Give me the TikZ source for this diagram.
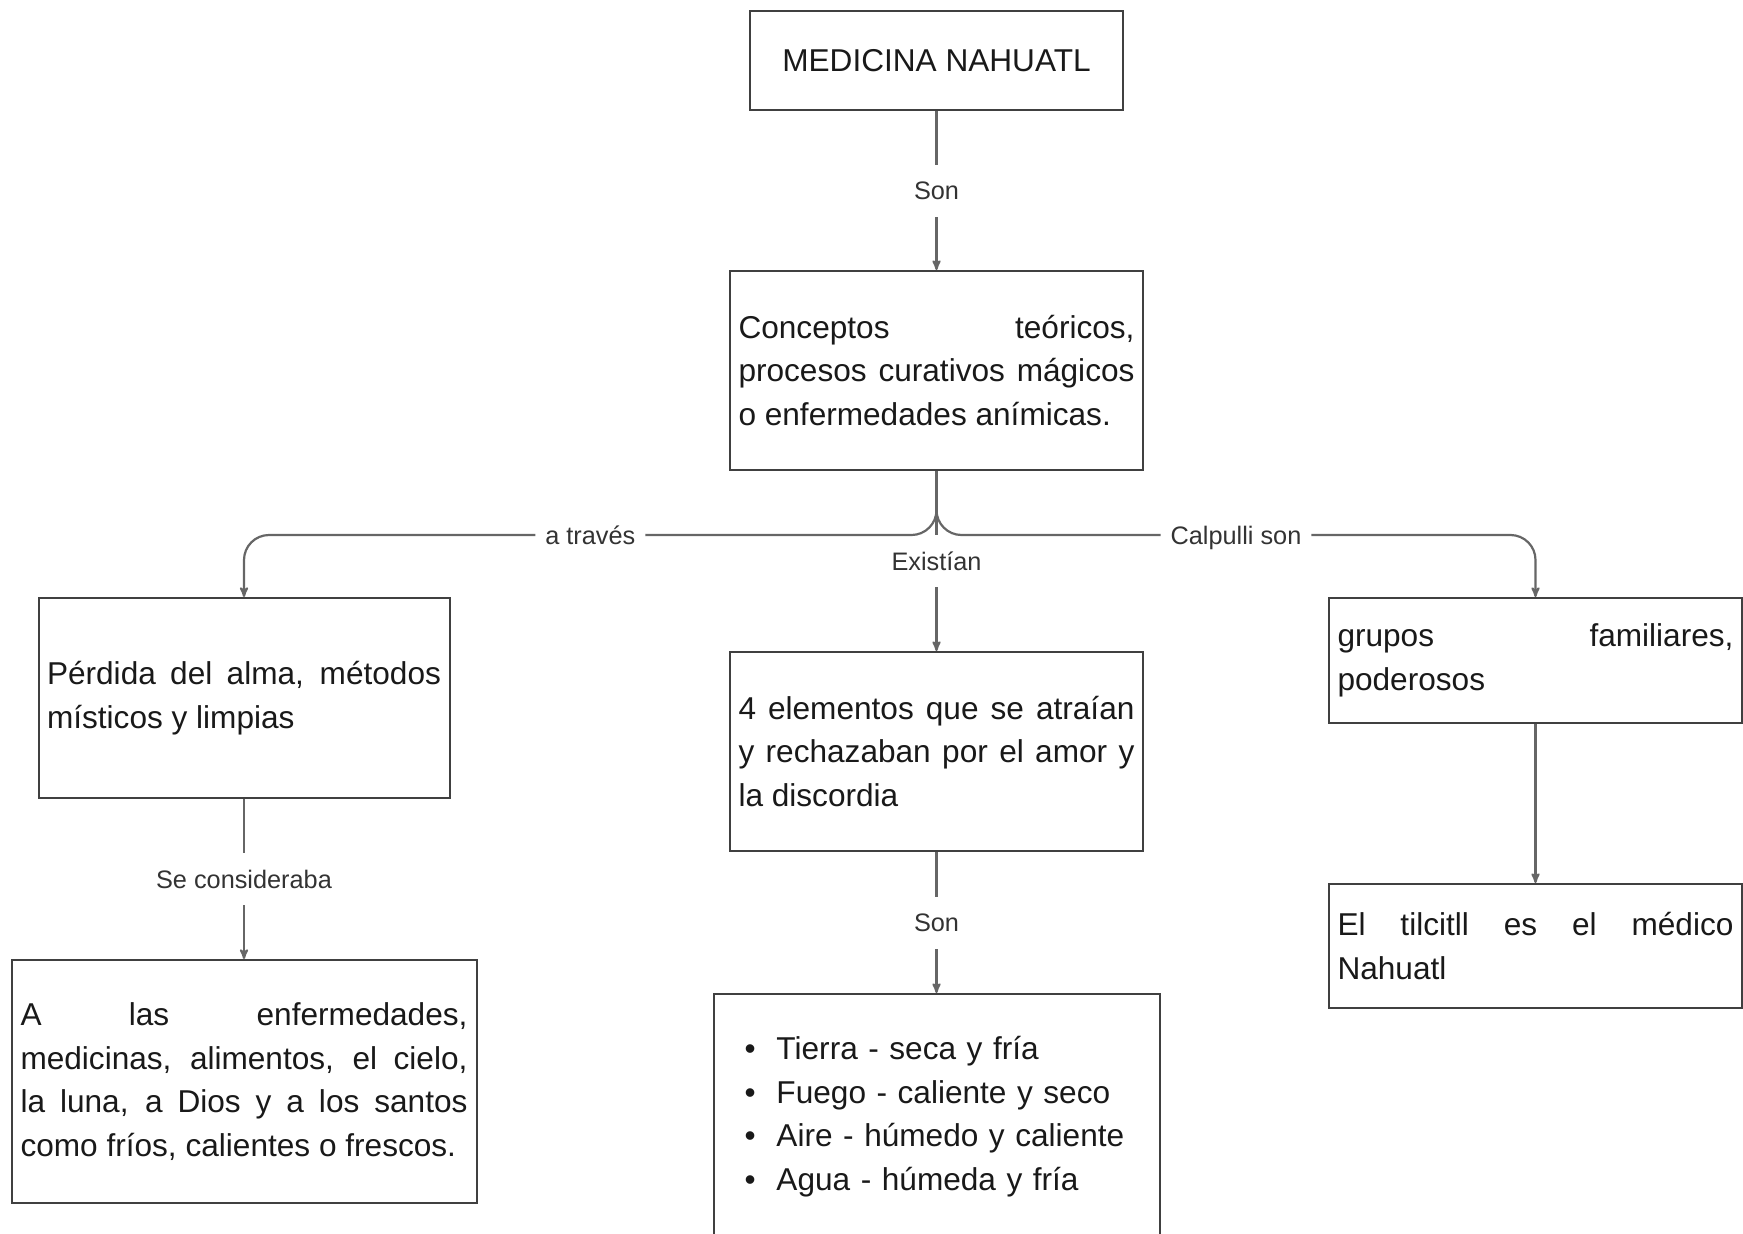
\documentclass[tikz,border=0pt]{standalone}
\usepackage{fontspec}
\setmainfont{Liberation Sans}
\usetikzlibrary{arrows}
\usetikzlibrary{calc}
\hyphenpenalty=10000
\tolerance=10000
\tikzset{
	caja/.style={draw=black!75,line width=2pt,text=black!90,align=justify,inner xsep=8.5pt,
		font=\fontsize{31.6}{43.4}\selectfont},
	enlace/.style={->,draw=black!60,line width=2.2pt},
	etiqueta/.style={fill=white,text=black!80,inner xsep=10pt,inner ysep=17pt,
		text height=18pt,text depth=0pt,font=\fontsize{25.3}{30}\selectfont}
}
\newcommand{\punto}[1]{\hspace*{22pt}\makebox[32pt][l]{\textbullet}#1}

\begin{document}
\begin{tikzpicture}[x=1pt,y=1pt,>=stealth']
	\useasboundingbox (0,0) rectangle (1743,-1234);
	\clip (0,0) rectangle (1743,-1234);
	% columna central
	\node[caja,align=center,minimum width=373pt,minimum height=99pt] (medicina) at (936.5,-60.5) {MEDICINA NAHUATL};
	\node[caja,text width=396pt,minimum height=199pt] (conceptos) [below of=medicina,node distance=310pt]
		{Conceptos teóricos,\linebreak procesos curativos mágicos\linebreak o enfermedades anímicas.};
	\node[caja,text width=396pt,minimum height=199pt] (elementos) [below of=conceptos,node distance=381pt]
		{4 elementos que se atraían\linebreak y rechazaban por el amor y\linebreak la discordia};
	\node[caja,align=left,text width=428pt,inner xsep=9pt,minimum height=282pt] (lista) [below of=elementos,node distance=383.5pt]
		{\punto{Tierra - seca y fría}\\ \punto{Fuego - caliente y seco}\\ \punto{Aire - húmedo y caliente}\\ \punto{Agua - húmeda y fría}\\ \mbox{}};
	% columna izquierda
	\node[caja,text width=394pt,minimum height=200pt] (perdida) [left of=elementos,node distance=692.5pt,yshift=53.5pt]
		{Pérdida del alma, métodos\linebreak místicos y limpias};
	\node[caja,text width=447pt,inner xsep=9pt,minimum height=243pt] (enfermedades) [below of=perdida,node distance=383.5pt]
		{A las enfermedades,\linebreak medicinas, alimentos, el cielo,\linebreak la luna, a Dios y a los santos\linebreak como fríos, calientes o frescos.};
	% columna derecha
	\node[caja,text width=396pt,minimum height=125pt] (grupos) [right of=elementos,node distance=599pt,yshift=91pt]
		{grupos familiares,\linebreak poderosos};
	\node[caja,text width=396pt,minimum height=124pt] (tilcitl) [below of=grupos,node distance=285.5pt]
		{El tilcitll es el médico\linebreak Nahuatl};

	\coordinate (cruce) at ($(conceptos.south)+(0,-64)$);

	\draw[enlace] (medicina) -- node[etiqueta] {Son} (conceptos);
	\draw[enlace] (conceptos) -- node[etiqueta] {Existían} (elementos);
	\draw[enlace,rounded corners=25pt] (conceptos.south) -- (cruce) -- node[etiqueta] {a través} (cruce -| perdida.north) -- (perdida.north);
	\draw[enlace,rounded corners=25pt] (conceptos.south) -- (cruce) -- node[etiqueta] {Calpulli son} (cruce -| grupos.north) -- (grupos.north);
	\draw[enlace] (elementos) -- node[etiqueta] {Son} (lista);
	\draw[enlace] (perdida) -- node[etiqueta] {Se consideraba} (enfermedades);
	\draw[enlace] (grupos) -- (tilcitl);
\end{tikzpicture}
\end{document}
